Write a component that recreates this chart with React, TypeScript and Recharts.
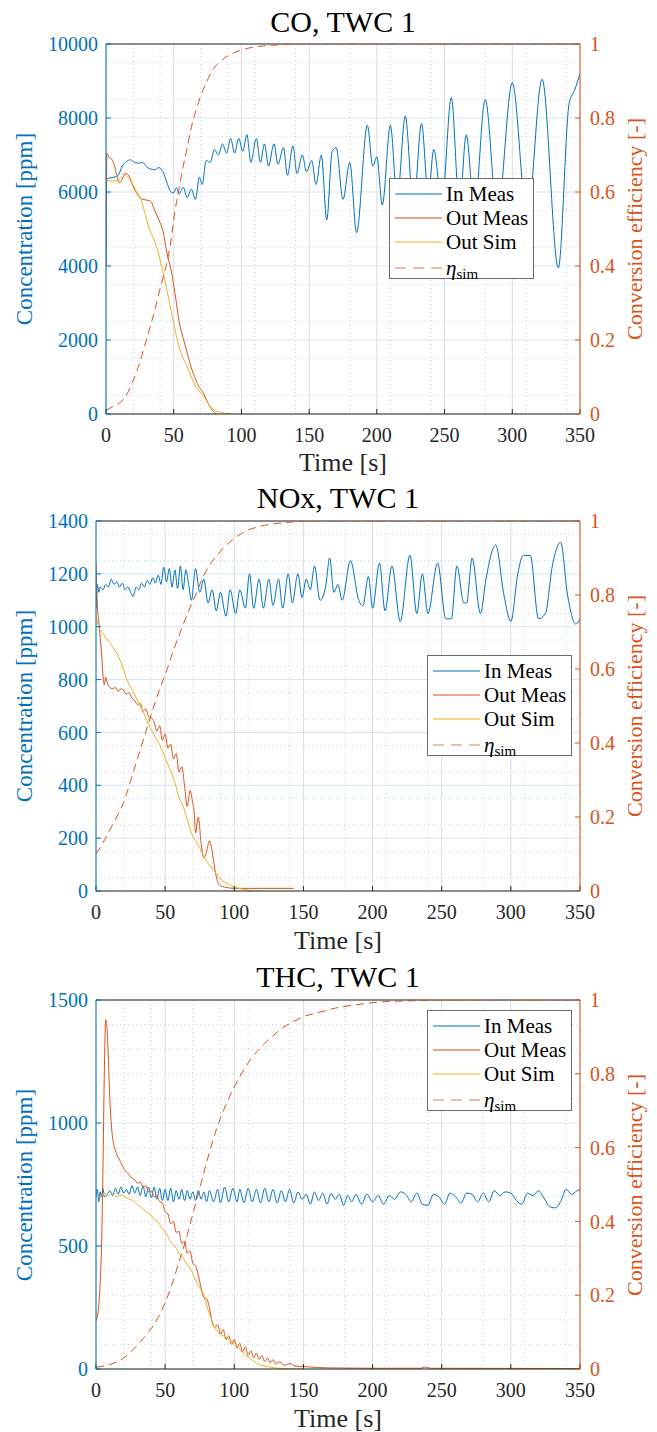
import React from 'react';
import { LineChart, Line, XAxis, YAxis, CartesianGrid, ReferenceLine } from 'recharts';

type Pt = [number, number];

// ---- axis ticks ----
const timeTicks = [0, 50, 100, 150, 200, 250, 300, 350];
const effTicks = [0, 0.2, 0.4, 0.6, 0.8, 1];
const coTicks = [0, 2000, 4000, 6000, 8000, 10000];
const noxTicks = [0, 200, 400, 600, 800, 1000, 1200, 1400];
const thcTicks = [0, 500, 1000, 1500];

// ---- CO, TWC 1 ----
const coInMeas: Pt[] = [
  [0, 4000], [0.5, 6350], [3, 6380], [6, 6400], [9, 6450], [12, 6700], [15, 6820], [18, 6870], [21, 6800],
  [24, 6780], [27, 6800], [30, 6680], [33, 6620], [36, 6600], [39, 6660], [42, 6550], [45, 6250], [48, 6000],
  [50, 5980], [52, 6120], [54, 5950], [57, 6130], [60, 5850], [63, 6080], [66, 5800], [69, 6400], [71, 6200],
  [74, 6850], [77, 6800], [80, 7150], [83, 7000], [86, 7300], [89, 7050], [92, 7450], [95, 7050], [98, 7450],
  [101, 7100], [104, 7550], [107, 6800], [111, 7450], [114, 6800], [117, 7300], [120, 6700], [124, 7300],
  [127, 6750], [131, 7200], [134, 6450], [138, 7250], [141, 6500], [145, 7000], [148, 6550], [152, 6850],
  [155, 6200], [159, 7000], [163, 5250], [167, 7100], [170, 7200], [175, 5800], [180, 6800], [185, 4900],
  [193, 7800], [197, 6700], [200, 6950], [204, 5650], [210, 7800], [215, 5800], [221, 8050], [227, 5600],
  [233, 7850], [238, 5900], [242, 7150], [248, 5700], [255, 8550], [261, 5600], [266, 7550], [272, 5500],
  [280, 8500], [289, 5400], [300, 8950], [311, 5300], [322, 9050], [334, 3950], [342, 8400], [346, 8750],
  [350, 9200],
];
const coOutMeas: Pt[] = [
  [0, 4000], [0.7, 7050], [2, 6950], [4, 6900], [6, 6750], [8, 6450], [10, 6250], [12, 6350], [14, 6500],
  [16, 6480], [18, 6350], [20, 6150], [23, 5950], [26, 5820], [30, 5780], [33, 5750], [36, 5500], [39, 5250],
  [42, 4950], [45, 4350], [48, 3900], [51, 3250], [54, 2500], [57, 2050], [60, 1650], [63, 1250], [66, 950],
  [69, 720], [71, 620], [74, 400], [77, 180], [80, 40], [82, 0],
];
const coOutSim: Pt[] = [
  [0, 6300], [5, 6300], [9, 6320], [12, 6420], [14, 6460], [16, 6400], [19, 6250], [22, 6050], [26, 5780],
  [29, 5400], [32, 5000], [35, 4750], [39, 4300], [42, 3850], [45, 3350], [48, 2800], [50, 2450], [54, 1820],
  [57, 1500], [60, 1280], [63, 1000], [67, 700], [70, 560], [73, 430], [77, 190], [80, 100], [85, 40],
  [90, 10], [95, 0],
];
const coEta: Pt[] = [
  [0, 0.01], [5, 0.02], [10, 0.03], [14, 0.045], [20, 0.09], [25, 0.14], [29, 0.19], [33, 0.24], [36, 0.28],
  [40, 0.34], [45, 0.41], [48, 0.47], [51, 0.55], [54, 0.61], [57, 0.67], [60, 0.72], [63, 0.775], [66, 0.815],
  [70, 0.86], [74, 0.895], [78, 0.925], [82, 0.945], [86, 0.958], [90, 0.968], [95, 0.977], [100, 0.984],
  [110, 0.992], [120, 0.996], [135, 0.999], [150, 1], [350, 1],
];

// ---- NOx, TWC 1 ----
const noxInMeas: Pt[] = [
  [0, 1070], [1, 1160], [2, 1130], [3, 1150], [5, 1140], [7, 1160], [9, 1150], [11, 1180], [13, 1160],
  [15, 1170], [17, 1150], [19, 1165], [21, 1140], [23, 1150], [25, 1130], [27, 1115], [29, 1150], [31, 1140],
  [33, 1165], [35, 1150], [37, 1175], [39, 1160], [41, 1185], [43, 1165], [45, 1195], [47, 1160], [49, 1225],
  [51, 1170], [53, 1220], [55, 1150], [57, 1215], [59, 1145], [61, 1230], [63, 1140], [65, 1215], [67, 1160],
  [69, 1100], [72, 1220], [75, 1130], [78, 1180], [81, 1090], [84, 1140], [87, 1060], [90, 1130], [94, 1040],
  [97, 1140], [101, 1050], [104, 1140], [108, 1070], [111, 1200], [114, 1070], [118, 1180], [121, 1070],
  [125, 1180], [128, 1080], [132, 1180], [135, 1070], [139, 1200], [142, 1090], [146, 1200], [149, 1110],
  [152, 1180], [155, 1140], [158, 1230], [162, 1100], [166, 1150], [169, 1260], [172, 1130], [175, 1160],
  [178, 1100], [184, 1250], [190, 1100], [193, 1080], [197, 1190], [200, 1070], [205, 1240], [209, 1060],
  [214, 1230], [220, 1020], [227, 1270], [232, 1050], [236, 1200], [240, 1050], [247, 1240], [253, 1030],
  [257, 1030], [261, 1230], [266, 1090], [268, 1090], [272, 1260], [278, 1050], [282, 1180], [289, 1310],
  [295, 1120], [300, 1020], [305, 1200], [309, 1270], [314, 1270], [320, 1030], [325, 1050], [330, 1230],
  [336, 1320], [341, 1120], [347, 1010], [350, 1030],
];
const noxOutMeas: Pt[] = [
  [0, 1240], [0.5, 1150], [1, 1080], [2, 1020], [3, 960], [4, 900], [5, 820], [6, 780], [7, 810], [8, 790],
  [10, 770], [12, 765], [14, 770], [16, 755], [18, 765], [20, 760], [22, 745], [24, 750], [26, 730], [28, 720],
  [30, 705], [32, 710], [34, 680], [36, 690], [38, 660], [40, 655], [42, 640], [44, 605], [46, 625], [48, 570],
  [50, 595], [52, 540], [54, 555], [56, 500], [58, 520], [60, 450], [62, 470], [64, 400], [66, 320], [68, 380],
  [70, 330], [71, 300], [72, 220], [74, 280], [76, 180], [78, 125], [80, 150], [82, 190], [84, 150], [86, 80],
  [88, 35], [90, 20], [93, 15], [100, 10], [143, 10],
];
const noxOutSim: Pt[] = [
  [0, 1040], [2, 1000], [5, 975], [8, 950], [10, 940], [13, 915], [16, 890], [18, 865], [21, 820], [24, 780],
  [27, 755], [30, 720], [33, 690], [36, 655], [39, 620], [42, 590], [45, 565], [48, 530], [51, 490], [54, 455],
  [57, 410], [60, 355], [63, 320], [66, 270], [69, 220], [72, 190], [75, 165], [78, 130], [81, 105], [84, 85],
  [87, 65], [90, 45], [93, 35], [96, 25], [100, 15], [105, 8], [110, 3], [115, 0], [120, 0],
];
const noxEta: Pt[] = [
  [0, 0.1], [5, 0.13], [10, 0.165], [15, 0.2], [21, 0.25], [26, 0.31], [31, 0.37], [36, 0.43], [41, 0.49],
  [46, 0.545], [51.5, 0.6], [56, 0.65], [61, 0.7], [66.7, 0.755], [72, 0.8], [77, 0.845], [82, 0.88],
  [87, 0.905], [93, 0.93], [100, 0.953], [108, 0.972], [118, 0.985], [130, 0.993], [145, 0.998], [160, 1],
  [350, 1],
];

// ---- THC, TWC 1 ----
const thcInMeas: Pt[] = [
  [0, 700], [1, 730], [2, 680], [3, 720], [4, 700], [5, 735], [6, 700], [8, 710], [10, 725], [12, 705],
  [14, 735], [16, 710], [18, 740], [20, 715], [22, 730], [24, 710], [26, 745], [28, 715], [30, 740], [32, 705],
  [34, 745], [36, 700], [38, 740], [40, 695], [42, 740], [44, 690], [46, 735], [48, 685], [50, 730], [52, 685],
  [54, 735], [56, 680], [58, 725], [60, 690], [62, 730], [64, 685], [66, 725], [68, 690], [70, 720], [72, 685],
  [74, 725], [76, 690], [78, 720], [80, 680], [82, 725], [85, 680], [88, 730], [90, 675], [93, 740], [96, 680],
  [99, 735], [102, 680], [104, 730], [107, 675], [110, 735], [113, 680], [116, 730], [119, 675], [122, 735],
  [125, 680], [128, 730], [131, 675], [134, 725], [137, 680], [140, 730], [143, 675], [146, 720], [149, 690],
  [152, 710], [155, 670], [158, 720], [161, 685], [164, 715], [167, 670], [170, 715], [173, 690], [176, 710],
  [179, 665], [182, 705], [185, 680], [188, 710], [192, 670], [196, 710], [200, 680], [204, 705], [208, 670],
  [212, 705], [216, 690], [220, 720], [224, 710], [228, 680], [232, 715], [236, 670], [240, 665], [244, 710],
  [248, 700], [252, 670], [256, 715], [260, 700], [264, 675], [268, 715], [272, 710], [276, 680], [280, 715],
  [284, 680], [288, 725], [292, 705], [296, 720], [300, 715], [304, 685], [308, 670], [312, 715], [316, 705],
  [320, 725], [324, 695], [328, 660], [332, 655], [336, 680], [340, 730], [344, 710], [348, 725], [350, 730],
];
const thcOutMeas: Pt[] = [
  [0, 195], [2, 260], [3, 350], [4, 500], [5, 800], [6, 1200], [7, 1420], [8, 1380], [9, 1250], [10, 1100],
  [11, 1000], [12, 940], [14, 890], [16, 860], [18, 840], [20, 815], [22, 800], [24, 790], [26, 775], [28, 770],
  [30, 755], [32, 760], [34, 740], [36, 745], [38, 720], [40, 725], [42, 700], [44, 705], [46, 680], [48, 675],
  [50, 640], [52, 630], [54, 590], [56, 600], [58, 555], [60, 560], [62, 510], [64, 520], [66, 470], [68, 480],
  [70, 430], [72, 420], [74, 380], [76, 330], [78, 290], [80, 285], [82, 250], [84, 190], [86, 170], [88, 180],
  [90, 140], [92, 160], [94, 120], [96, 135], [98, 100], [100, 120], [102, 85], [104, 105], [106, 70], [108, 90],
  [110, 55], [112, 75], [114, 45], [116, 65], [118, 40], [120, 55], [122, 30], [124, 45], [126, 25], [128, 38],
  [130, 20], [133, 30], [136, 15], [140, 22], [144, 12], [150, 10], [160, 6], [175, 4], [200, 3], [235, 3],
  [238, 8], [242, 3], [350, 2],
];
const thcOutSim: Pt[] = [
  [0, 710], [3, 700], [6, 715], [9, 705], [12, 712], [15, 700], [18, 708], [21, 700], [24, 690], [27, 685],
  [30, 668], [33, 655], [36, 640], [39, 630], [42, 610], [45, 597], [48, 570], [51, 550], [54, 515], [57, 500],
  [60, 470], [63, 450], [66, 425], [69, 400], [72, 360], [75, 330], [78, 300], [81, 240], [84, 195], [87, 160],
  [90, 140], [94, 130], [97, 115], [100, 105], [104, 80], [108, 55], [112, 40], [116, 25], [120, 15], [124, 10],
  [130, 4], [140, 1], [150, 0],
];
const thcEta: Pt[] = [
  [0, 0.005], [10, 0.012], [20, 0.03], [30, 0.065], [38, 0.1], [45, 0.14], [50, 0.18], [55, 0.23], [60, 0.29],
  [65, 0.35], [70, 0.42], [75, 0.49], [80, 0.56], [85, 0.625], [90, 0.68], [95, 0.725], [100, 0.765],
  [106, 0.805], [112, 0.84], [120, 0.875], [127, 0.9], [135, 0.925], [142, 0.94], [150, 0.955], [160, 0.965],
  [173, 0.978], [190, 0.988], [203, 0.994], [230, 0.998], [260, 1], [350, 1],
];

const BLUE = '#0072BD';
const RED = '#D95319';
const YELLOW = '#EDB120';
const DARK = '#262626';
const FONT = "'Liberation Serif', 'Times New Roman', Tinos, 'DejaVu Serif', 'Noto Serif', serif";

const rows = (pts: Pt[]) => pts.map(([t, v]) => ({ t, v }));
const minorValues = (max: number, step: number, major: number) =>
  Array.from({ length: Math.round(max / step) + 1 }, (_, i) => i * step).filter(v => v % major !== 0);

interface PanelProps {
  title: string;
  height: number;
  plotTop: number;
  plotBottom: number;
  plotLeft: number;
  yMax: number;
  yTicks: number[];
  yMinorStep: number;
  inMeas: Pt[];
  outMeas: Pt[];
  outSim: Pt[];
  eta: Pt[];
  titleY: number;
  timeY: number;
  legend: { left: number; top: number };
}

const LegendBox = ({ left, top }: { left: number; top: number }) => {
  const items = [
    { color: BLUE, dash: undefined, label: 'In Meas' },
    { color: RED, dash: undefined, label: 'Out Meas' },
    { color: YELLOW, dash: undefined, label: 'Out Sim' },
    { color: '#EBA688', dash: '11 7', label: 'eta' },
  ];
  const rowY = [15, 39, 63, 89];
  return (
    <div style={{
      position: 'absolute', left, top, width: 145, height: 101, background: '#fff',
      border: '1px solid #6b6b6b', boxSizing: 'border-box', fontFamily: FONT, color: '#000',
    }}>
      {items.map((it, i) => (
        <div key={it.label} style={{ position: 'absolute', left: 0, top: rowY[i] - 13, height: 26, width: 145 }}>
          <svg width={52} height={26} style={{ position: 'absolute', left: 0, top: 0 }}>
            <line x1={5} x2={52} y1={13} y2={13} stroke={it.color} strokeWidth={it.dash ? 1.6 : 1.2}
              strokeDasharray={it.dash} />
          </svg>
          <div style={{ position: 'absolute', left: 56, top: 0, lineHeight: '26px', fontSize: 21, whiteSpace: 'nowrap' }}>
            {it.label === 'eta'
              ? <span><i>η</i><sub style={{ fontSize: 15, verticalAlign: '-4px' }}>sim</sub></span>
              : it.label}
          </div>
        </div>
      ))}
    </div>
  );
};

const Panel = (p: PanelProps) => {
  const W = 657;
  const plotRight = 580;
  const cx = (p.plotLeft + plotRight) / 2;
  const cy = (p.plotTop + p.plotBottom) / 2;
  const xMinor = minorValues(350, 10, 50);
  const yMinor = minorValues(p.yMax, p.yMinorStep, p.yTicks[1]);
  return (
    <div style={{ position: 'relative', width: W, height: p.height, fontFamily: FONT }}>
      <LineChart
        width={W}
        height={p.height}
        margin={{ top: p.plotTop, right: W - plotRight - 50, bottom: p.height - p.plotBottom - 40, left: p.plotLeft - 60 }}
        style={{ fontFamily: FONT }}
      >
        <CartesianGrid horizontal={false} verticalValues={xMinor} stroke="#cfcfcf" strokeDasharray="1 3" />
        <CartesianGrid vertical={false} horizontalValues={yMinor} stroke="#bcdaee" strokeDasharray="1 3" />
        <CartesianGrid horizontal={false} stroke="#dcdcdc" />
        <CartesianGrid vertical={false} stroke="#d3e6f3" />
        <XAxis
          type="number" dataKey="t" domain={[0, 350]} ticks={timeTicks} allowDataOverflow
          stroke={DARK} tickSize={-5} tickMargin={19} height={40}
          tick={{ fill: DARK, fontSize: 20, fontFamily: FONT }}
        />
        <YAxis
          type="number" domain={[0, p.yMax]} ticks={p.yTicks} allowDataOverflow width={60}
          stroke={BLUE} tickSize={-5} tickMargin={13}
          tick={{ fill: BLUE, fontSize: 20, fontFamily: FONT }}
        />
        <YAxis
          yAxisId="eff" orientation="right" type="number" domain={[0, 1]} ticks={effTicks} allowDataOverflow width={50}
          stroke={RED} tickSize={-5} tickMargin={15}
          tick={{ fill: RED, fontSize: 20, fontFamily: FONT }}
        />
        <ReferenceLine y={p.yMax} stroke={DARK} strokeWidth={1} />
        <Line data={rows(p.inMeas)} dataKey="v" name="In Meas" type="monotone" stroke={BLUE} strokeWidth={1}
          dot={false} activeDot={false} isAnimationActive={false} />
        <Line data={rows(p.outMeas)} dataKey="v" name="Out Meas" type="monotone" stroke={RED} strokeWidth={1}
          dot={false} activeDot={false} isAnimationActive={false} />
        <Line data={rows(p.outSim)} dataKey="v" name="Out Sim" type="monotone" stroke={YELLOW} strokeWidth={1}
          dot={false} activeDot={false} isAnimationActive={false} />
        <Line data={rows(p.eta)} dataKey="v" name="eta_sim" yAxisId="eff" type="monotone" stroke={RED}
          strokeWidth={1} strokeDasharray="8 5" dot={false} activeDot={false} isAnimationActive={false} />
      </LineChart>
      <div style={{ position: 'absolute', left: cx, top: p.titleY, transform: 'translate(-50%, -50%)', fontSize: 30, color: '#000', whiteSpace: 'nowrap', lineHeight: 1 }}>
        {p.title}
      </div>
      <div style={{ position: 'absolute', left: cx, top: p.timeY, transform: 'translate(-50%, -50%)', fontSize: 26, color: DARK, whiteSpace: 'nowrap', lineHeight: 1 }}>
        Time [s]
      </div>
      <div style={{ position: 'absolute', left: 24, top: cy, transform: 'translate(-50%, -50%) rotate(-90deg)', fontSize: 23, color: BLUE, whiteSpace: 'nowrap', lineHeight: 1 }}>
        Concentration [ppm]
      </div>
      <div style={{ position: 'absolute', left: 635, top: cy, transform: 'translate(-50%, -50%) rotate(-90deg)', fontSize: 22, color: RED, whiteSpace: 'nowrap', lineHeight: 1 }}>
        Conversion efficiency [-]
      </div>
      <LegendBox left={p.legend.left} top={p.legend.top} />
    </div>
  );
};

export default function App() {
  return (
    <div style={{ position: 'absolute', left: 0, top: 0, width: 657, height: 1432, background: '#fff', fontFamily: FONT }}>
      <Panel title="CO, TWC 1" height={478} plotTop={44} plotBottom={414} plotLeft={106}
        yMax={10000} yTicks={coTicks} yMinorStep={500}
        inMeas={coInMeas} outMeas={coOutMeas} outSim={coOutSim} eta={coEta}
        titleY={22} timeY={463} legend={{ left: 389, top: 178 }} />
      <Panel title="NOx, TWC 1" height={480} plotTop={43} plotBottom={413} plotLeft={96}
        yMax={1400} yTicks={noxTicks} yMinorStep={50}
        inMeas={noxInMeas} outMeas={noxOutMeas} outSim={noxOutSim} eta={noxEta}
        titleY={20} timeY={463} legend={{ left: 427, top: 177 }} />
      <Panel title="THC, TWC 1" height={474} plotTop={42} plotBottom={411} plotLeft={96}
        yMax={1500} yTicks={thcTicks} yMinorStep={100}
        inMeas={thcInMeas} outMeas={thcOutMeas} outSim={thcOutSim} eta={thcEta}
        titleY={19} timeY={461} legend={{ left: 427, top: 52 }} />
    </div>
  );
}
